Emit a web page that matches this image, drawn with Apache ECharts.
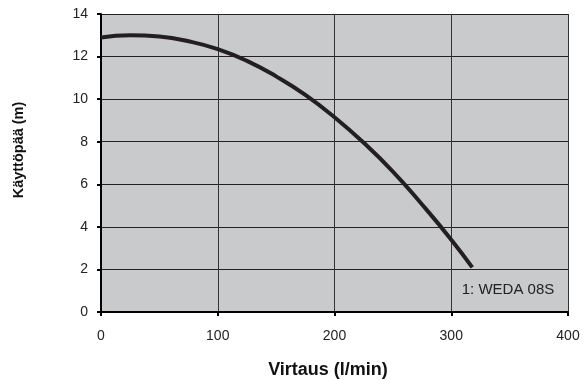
<!DOCTYPE html>
<html>
<head>
<meta charset="utf-8">
<script src="https://cdn.jsdelivr.net/npm/echarts@6/dist/echarts.min.js"></script>
<style>
  html, body { margin: 0; padding: 0; background: #fff; }
  #chart { width: 585px; height: 380px; }
</style>
</head>
<body>
<div id="chart"></div>
<script>
// 流量 (l/min)
var flow = [0, 25, 50, 75, 100, 125, 150, 175, 200, 225, 250, 275, 300, 318];
// 扬程 (m)
var head = [12.9, 13.0, 12.94, 12.72, 12.35, 11.8, 11.07, 10.2, 9.15, 7.95, 6.6, 5.05, 3.4, 2.1];
var seriesName = '1: WEDA 08S';

var points = [];
for (var i = 0; i < flow.length; i++) {
    points.push([flow[i], head[i]]);
}

var myChart = echarts.init(document.getElementById('chart'));

var option = {
    animation: false,
    textStyle: { fontFamily: 'Liberation Sans, Arial, sans-serif' },
    grid: {
        left: 101, top: 14, right: 17, bottom: 68,
        show: true,
        backgroundColor: '#c9cacc',
        borderWidth: 0
    },
    xAxis: {
        type: 'value',
        min: 0, max: 400, interval: 100,
        axisLine: { lineStyle: { color: '#000', width: 2 } },
        axisTick: { show: true, length: 4, lineStyle: { color: '#000', width: 2 } },
        axisLabel: { color: '#222', fontSize: 14, margin: 17 },
        splitLine: { show: true, lineStyle: { color: '#333', width: 1 } }
    },
    yAxis: {
        type: 'value',
        min: 0, max: 14, interval: 2,
        axisLine: { show: true, lineStyle: { color: '#000', width: 2 } },
        axisTick: { show: true, length: 4, lineStyle: { color: '#000', width: 2 } },
        axisLabel: { color: '#222', fontSize: 14, margin: 13 },
        splitLine: { show: true, lineStyle: { color: '#222', width: 1 } }
    },
    graphic: [
        {
            type: 'text',
            x: 19, y: 150,
            rotation: Math.PI / 2,
            style: {
                text: 'Käyttöpää (m)',
                fill: '#111',
                font: 'bold 14.5px Liberation Sans, Arial, sans-serif',
                align: 'center',
                verticalAlign: 'middle'
            }
        },
        {
            type: 'text',
            x: 328, y: 370,
            style: {
                text: 'Virtaus (l/min)',
                fill: '#111',
                font: 'bold 18px Liberation Sans, Arial, sans-serif',
                align: 'center',
                verticalAlign: 'middle'
            }
        },
        {
            type: 'text',
            x: 508, y: 290,
            style: {
                text: seriesName,
                fill: '#222',
                font: '15px Liberation Sans, Arial, sans-serif',
                align: 'center',
                verticalAlign: 'middle'
            }
        }
    ],
    series: [{
        name: seriesName,
        type: 'line',
        smooth: true,
        showSymbol: false,
        lineStyle: { color: '#231f20', width: 4 },
        data: points
    }]
};

myChart.setOption(option);
</script>
</body>
</html>
